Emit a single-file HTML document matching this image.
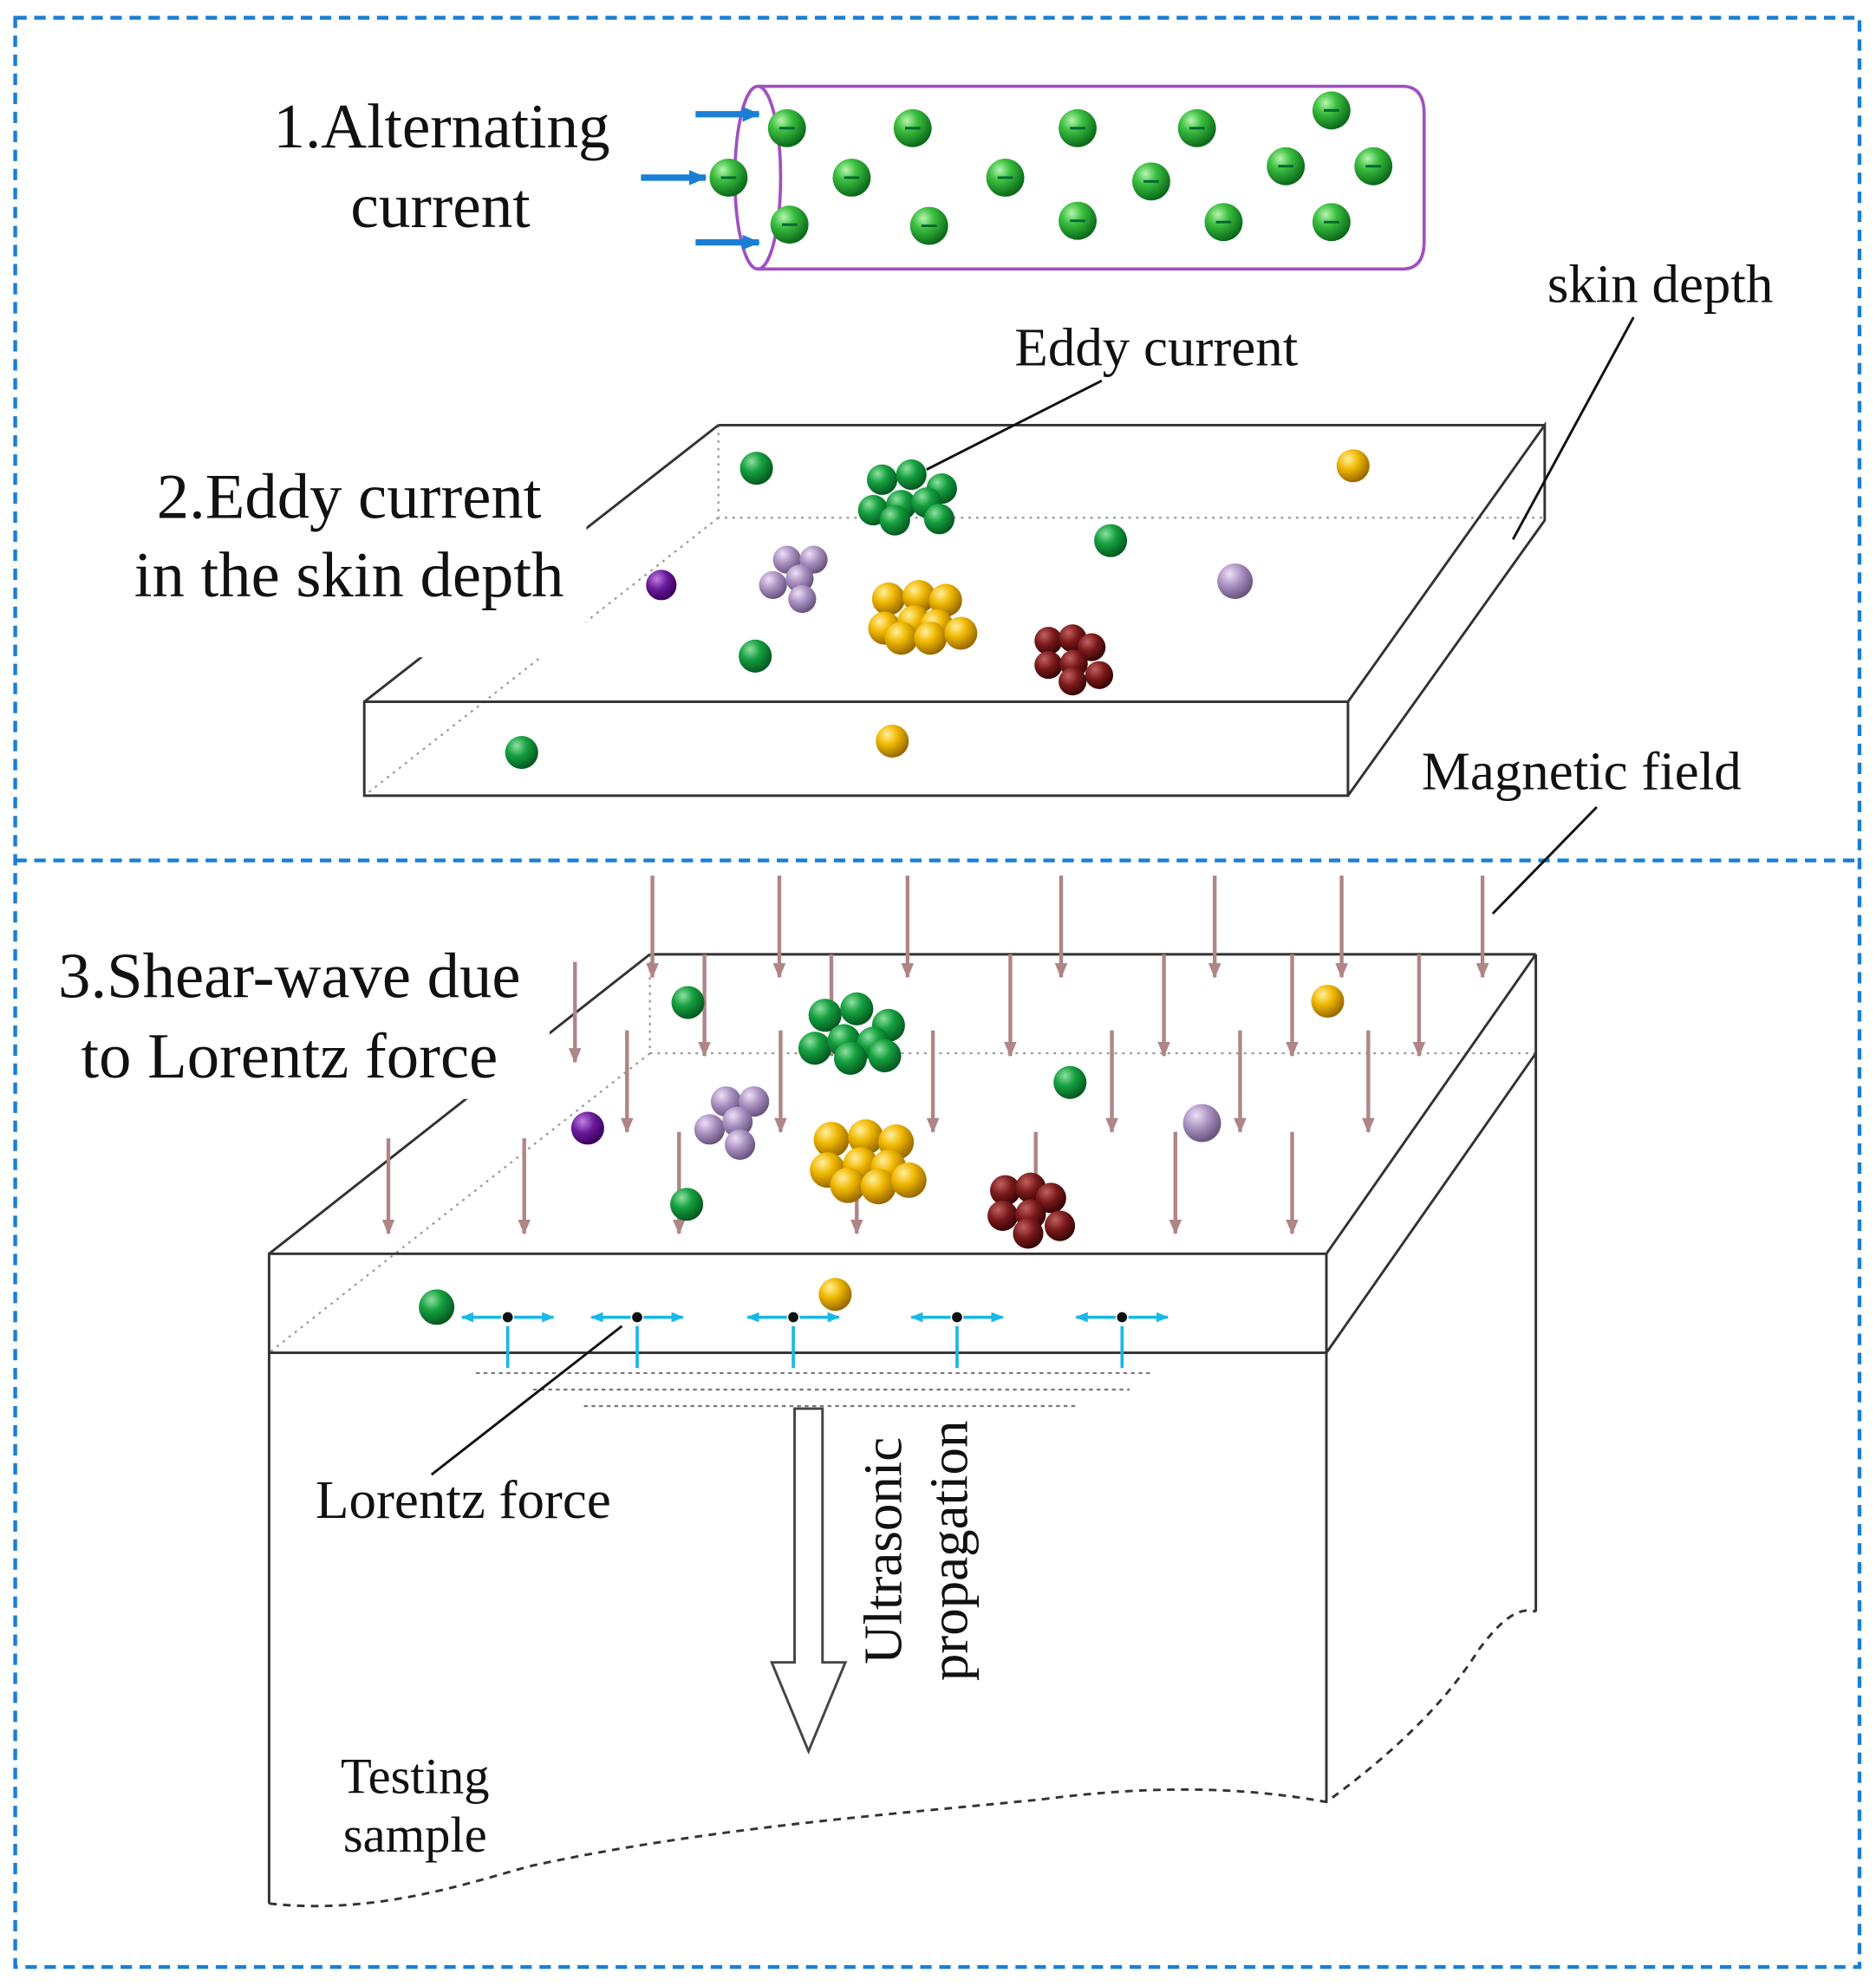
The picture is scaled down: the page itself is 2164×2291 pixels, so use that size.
<!DOCTYPE html>
<html><head><meta charset="utf-8"><style>
html,body{margin:0;padding:0;background:#fff}
svg{display:block}
text{font-family:"Liberation Serif",serif;fill:#111}
</style></head><body>
<svg width="2164" height="2291" viewBox="0 0 1478 1565" preserveAspectRatio="none" xmlns="http://www.w3.org/2000/svg">
<defs>
<radialGradient id="g" cx="35%" cy="30%" r="70%"><stop offset="0" stop-color="#b8f5b0"/><stop offset="0.4" stop-color="#3cc040"/><stop offset="1" stop-color="#0b6a1a"/></radialGradient>
<radialGradient id="dg" cx="35%" cy="30%" r="70%"><stop offset="0" stop-color="#8fe0a0"/><stop offset="0.45" stop-color="#15a040"/><stop offset="1" stop-color="#045a20"/></radialGradient>
<radialGradient id="y" cx="35%" cy="30%" r="70%"><stop offset="0" stop-color="#fff0a0"/><stop offset="0.45" stop-color="#f0b800"/><stop offset="1" stop-color="#9a6a00"/></radialGradient>
<radialGradient id="p" cx="35%" cy="30%" r="70%"><stop offset="0" stop-color="#eee0f5"/><stop offset="0.5" stop-color="#a890c0"/><stop offset="1" stop-color="#6a5580"/></radialGradient>
<radialGradient id="v" cx="35%" cy="30%" r="70%"><stop offset="0" stop-color="#c080e0"/><stop offset="0.5" stop-color="#6a1a9a"/><stop offset="1" stop-color="#3a0060"/></radialGradient>
<radialGradient id="r" cx="35%" cy="30%" r="70%"><stop offset="0" stop-color="#c06060"/><stop offset="0.5" stop-color="#7a1a1a"/><stop offset="1" stop-color="#3a0505"/></radialGradient>
<marker id="ma" markerWidth="12" markerHeight="10" refX="11" refY="5" orient="auto" markerUnits="userSpaceOnUse"><path d="M0,0 L12,5 L0,10 Z" fill="#b08585"/></marker>
<marker id="ba" markerWidth="14" markerHeight="12" refX="13" refY="6" orient="auto" markerUnits="userSpaceOnUse"><path d="M0,0 L14,6 L0,12 Z" fill="#1a7fd4"/></marker>
<marker id="ca" markerWidth="10" markerHeight="8" refX="9" refY="4" orient="auto" markerUnits="userSpaceOnUse"><path d="M0,0 L10,4 L0,8 Z" fill="#18b8e8"/></marker>
</defs>

<rect x="12" y="14" width="1453" height="1536" fill="none" stroke="#1a7fd4" stroke-width="3" stroke-dasharray="9,6"/>
<line x1="12" y1="678" x2="1465" y2="678" stroke="#1a7fd4" stroke-width="3" stroke-dasharray="9,6"/>

<path d="M597,68 L1105,68 Q1122,68 1122,90 L1122,190 Q1122,212 1105,212 L597,212" fill="none" stroke="#a050c0" stroke-width="2.5"/>
<ellipse cx="597" cy="140" rx="18" ry="72" fill="none" stroke="#a050c0" stroke-width="2.5"/>
<g stroke="#1a7fd4" stroke-width="5" fill="none">
<line x1="548" y1="90" x2="598" y2="90" marker-end="url(#ba)"/>
<line x1="505" y1="140" x2="556" y2="140" marker-end="url(#ba)"/>
<line x1="548" y1="191" x2="598" y2="191" marker-end="url(#ba)"/>
</g>
<g>
<g transform="translate(620,101)"><circle r="15" fill="url(#g)"/><line x1="-6" x2="6" stroke="#063" stroke-width="2"/></g>
<g transform="translate(574,140)"><circle r="15" fill="url(#g)"/><line x1="-6" x2="6" stroke="#063" stroke-width="2"/></g>
<g transform="translate(622,177)"><circle r="15" fill="url(#g)"/><line x1="-6" x2="6" stroke="#063" stroke-width="2"/></g>
<g transform="translate(719,101)"><circle r="15" fill="url(#g)"/><line x1="-6" x2="6" stroke="#063" stroke-width="2"/></g>
<g transform="translate(671,140)"><circle r="15" fill="url(#g)"/><line x1="-6" x2="6" stroke="#063" stroke-width="2"/></g>
<g transform="translate(732,178)"><circle r="15" fill="url(#g)"/><line x1="-6" x2="6" stroke="#063" stroke-width="2"/></g>
<g transform="translate(849,101)"><circle r="15" fill="url(#g)"/><line x1="-6" x2="6" stroke="#063" stroke-width="2"/></g>
<g transform="translate(792,140)"><circle r="15" fill="url(#g)"/><line x1="-6" x2="6" stroke="#063" stroke-width="2"/></g>
<g transform="translate(849,174)"><circle r="15" fill="url(#g)"/><line x1="-6" x2="6" stroke="#063" stroke-width="2"/></g>
<g transform="translate(943,101)"><circle r="15" fill="url(#g)"/><line x1="-6" x2="6" stroke="#063" stroke-width="2"/></g>
<g transform="translate(907,143)"><circle r="15" fill="url(#g)"/><line x1="-6" x2="6" stroke="#063" stroke-width="2"/></g>
<g transform="translate(964,175)"><circle r="15" fill="url(#g)"/><line x1="-6" x2="6" stroke="#063" stroke-width="2"/></g>
<g transform="translate(1049,87)"><circle r="15" fill="url(#g)"/><line x1="-6" x2="6" stroke="#063" stroke-width="2"/></g>
<g transform="translate(1013,131)"><circle r="15" fill="url(#g)"/><line x1="-6" x2="6" stroke="#063" stroke-width="2"/></g>
<g transform="translate(1082,131)"><circle r="15" fill="url(#g)"/><line x1="-6" x2="6" stroke="#063" stroke-width="2"/></g>
<g transform="translate(1049,175)"><circle r="15" fill="url(#g)"/><line x1="-6" x2="6" stroke="#063" stroke-width="2"/></g>
</g>
<text x="348" y="116" font-size="50" text-anchor="middle">1.Alternating</text>
<text x="347" y="179" font-size="50" text-anchor="middle">current</text>

<g stroke="#999" stroke-width="1.5" stroke-dasharray="2,4" fill="none">
<polyline points="566,335 566,408 1217,408"/><line x1="566" y1="408" x2="287" y2="627"/>
</g>
<g stroke="#333" stroke-width="2" fill="none">
<line x1="566" y1="335" x2="1217" y2="335"/>
<line x1="566" y1="335" x2="287" y2="553"/>
<rect x="287" y="553" width="775" height="74"/>
<polyline points="1062,553 1217,335 1217,410 1062,627"/>
</g>
<rect x="100" y="360" width="362" height="158" fill="#fff"/>
<text x="275" y="408" font-size="51" text-anchor="middle">2.Eddy current</text>
<text x="275" y="470" font-size="51" text-anchor="middle">in the skin depth</text>
<g>
<circle cx="596" cy="369" r="13" fill="url(#dg)"/><circle cx="1066" cy="367" r="13" fill="url(#y)"/>
<circle cx="875" cy="426" r="13" fill="url(#dg)"/><circle cx="973" cy="458" r="14" fill="url(#p)"/>
<circle cx="521" cy="461" r="12" fill="url(#v)"/><circle cx="595" cy="517" r="13" fill="url(#dg)"/>
<circle cx="411" cy="593" r="13" fill="url(#dg)"/><circle cx="703" cy="584" r="13" fill="url(#y)"/>
<circle cx="695" cy="378" r="12" fill="url(#dg)"/><circle cx="718" cy="374" r="12" fill="url(#dg)"/><circle cx="742" cy="385" r="12" fill="url(#dg)"/>
<circle cx="688" cy="402" r="12" fill="url(#dg)"/><circle cx="710" cy="398" r="12" fill="url(#dg)"/><circle cx="730" cy="396" r="12" fill="url(#dg)"/>
<circle cx="705" cy="410" r="12" fill="url(#dg)"/><circle cx="740" cy="409" r="12" fill="url(#dg)"/>
<circle cx="620" cy="441" r="11" fill="url(#p)"/><circle cx="641" cy="441" r="11" fill="url(#p)"/><circle cx="609" cy="461" r="11" fill="url(#p)"/><circle cx="630" cy="456" r="11" fill="url(#p)"/><circle cx="632" cy="472" r="11" fill="url(#p)"/>
<circle cx="700" cy="472" r="13" fill="url(#y)"/><circle cx="724" cy="470" r="13" fill="url(#y)"/><circle cx="745" cy="473" r="13" fill="url(#y)"/>
<circle cx="697" cy="495" r="13" fill="url(#y)"/><circle cx="720" cy="490" r="13" fill="url(#y)"/><circle cx="738" cy="493" r="13" fill="url(#y)"/>
<circle cx="710" cy="503" r="13" fill="url(#y)"/><circle cx="733" cy="503" r="13" fill="url(#y)"/><circle cx="757" cy="499" r="13" fill="url(#y)"/>
<circle cx="826" cy="505" r="11" fill="url(#r)"/><circle cx="845" cy="503" r="11" fill="url(#r)"/><circle cx="860" cy="510" r="11" fill="url(#r)"/>
<circle cx="826" cy="524" r="11" fill="url(#r)"/><circle cx="846" cy="523" r="11" fill="url(#r)"/><circle cx="866" cy="532" r="11" fill="url(#r)"/>
<circle cx="845" cy="537" r="11" fill="url(#r)"/>
</g>
<text x="911" y="288" font-size="43" text-anchor="middle">Eddy current</text>
<line x1="868" y1="300" x2="730" y2="370" stroke="#111" stroke-width="2"/>
<text x="1308" y="238" font-size="43" text-anchor="middle">skin depth</text>
<line x1="1287" y1="250" x2="1192" y2="425" stroke="#111" stroke-width="2"/>
<text x="1246" y="622" font-size="43" text-anchor="middle">Magnetic field</text>
<line x1="1258" y1="636" x2="1176" y2="720" stroke="#111" stroke-width="2"/>

<g stroke="#999" stroke-width="1.5" stroke-dasharray="2,4" fill="none">
<polyline points="512,752 512,830 1210,830"/><line x1="512" y1="830" x2="212" y2="1066"/>
</g>
<g stroke="#333" stroke-width="2" fill="none">
<line x1="512" y1="752" x2="1210" y2="752"/>
<line x1="512" y1="752" x2="212" y2="988"/>
<rect x="212" y="988" width="833" height="78"/>
<line x1="1045" y1="988" x2="1210" y2="752"/>
<line x1="1045" y1="1066" x2="1210" y2="830"/>
<line x1="1210" y1="752" x2="1210" y2="1270"/>
<line x1="212" y1="1066" x2="212" y2="1500"/>
<line x1="1045" y1="1066" x2="1045" y2="1420"/>
</g>
<path d="M212,1500 C300,1510 380,1480 420,1470 C560,1440 700,1430 820,1418 C920,1405 990,1410 1045,1420 C1100,1380 1140,1340 1165,1300 C1180,1280 1195,1265 1210,1270" fill="none" stroke="#333" stroke-width="2" stroke-dasharray="6,5"/>
<rect x="35" y="740" width="398" height="126" fill="#fff"/>
<text x="228" y="786" font-size="51" text-anchor="middle">3.Shear-wave due</text>
<text x="228" y="849" font-size="51" text-anchor="middle">to Lorentz force</text>

<g stroke="#b08585" stroke-width="3" marker-end="url(#ma)">
<line x1="514" y1="690" x2="514" y2="770"/><line x1="614" y1="690" x2="614" y2="770"/><line x1="715" y1="690" x2="715" y2="770"/><line x1="836" y1="690" x2="836" y2="770"/><line x1="957" y1="690" x2="957" y2="770"/><line x1="1057" y1="690" x2="1057" y2="770"/><line x1="1168" y1="690" x2="1168" y2="770"/>
<line x1="453" y1="758" x2="453" y2="837"/><line x1="555" y1="752" x2="555" y2="832"/><line x1="655" y1="752" x2="655" y2="832"/><line x1="796" y1="752" x2="796" y2="832"/><line x1="917" y1="752" x2="917" y2="832"/><line x1="1018" y1="752" x2="1018" y2="832"/><line x1="1118" y1="752" x2="1118" y2="832"/>
<line x1="494" y1="812" x2="494" y2="892"/><line x1="615" y1="812" x2="615" y2="892"/><line x1="735" y1="812" x2="735" y2="892"/><line x1="876" y1="812" x2="876" y2="892"/><line x1="977" y1="812" x2="977" y2="892"/><line x1="1078" y1="812" x2="1078" y2="892"/>
<line x1="306" y1="897" x2="306" y2="972"/><line x1="413" y1="897" x2="413" y2="972"/><line x1="535" y1="892" x2="535" y2="972"/><line x1="675" y1="892" x2="675" y2="972"/><line x1="816" y1="892" x2="816" y2="972"/><line x1="926" y1="892" x2="926" y2="972"/><line x1="1018" y1="892" x2="1018" y2="972"/>
</g>
<g>
<circle cx="542" cy="790" r="13" fill="url(#dg)"/><circle cx="1046" cy="789" r="13" fill="url(#y)"/>
<circle cx="843" cy="853" r="13" fill="url(#dg)"/><circle cx="947" cy="885" r="15" fill="url(#p)"/>
<circle cx="463" cy="889" r="13" fill="url(#v)"/><circle cx="541" cy="949" r="13" fill="url(#dg)"/>
<circle cx="344" cy="1030" r="14" fill="url(#dg)"/><circle cx="658" cy="1020" r="13" fill="url(#y)"/>
<circle cx="650" cy="800" r="13" fill="url(#dg)"/><circle cx="675" cy="795" r="13" fill="url(#dg)"/><circle cx="700" cy="808" r="13" fill="url(#dg)"/>
<circle cx="642" cy="826" r="13" fill="url(#dg)"/><circle cx="665" cy="820" r="13" fill="url(#dg)"/><circle cx="688" cy="822" r="13" fill="url(#dg)"/>
<circle cx="670" cy="834" r="13" fill="url(#dg)"/><circle cx="697" cy="832" r="13" fill="url(#dg)"/>
<circle cx="572" cy="868" r="12" fill="url(#p)"/><circle cx="594" cy="868" r="12" fill="url(#p)"/><circle cx="559" cy="890" r="12" fill="url(#p)"/><circle cx="581" cy="884" r="12" fill="url(#p)"/><circle cx="583" cy="902" r="12" fill="url(#p)"/>
<circle cx="655" cy="898" r="14" fill="url(#y)"/><circle cx="682" cy="896" r="14" fill="url(#y)"/><circle cx="706" cy="900" r="14" fill="url(#y)"/>
<circle cx="652" cy="922" r="14" fill="url(#y)"/><circle cx="678" cy="918" r="14" fill="url(#y)"/><circle cx="700" cy="920" r="14" fill="url(#y)"/>
<circle cx="668" cy="934" r="14" fill="url(#y)"/><circle cx="692" cy="935" r="14" fill="url(#y)"/><circle cx="716" cy="930" r="14" fill="url(#y)"/>
<circle cx="792" cy="938" r="12" fill="url(#r)"/><circle cx="812" cy="936" r="12" fill="url(#r)"/><circle cx="828" cy="944" r="12" fill="url(#r)"/>
<circle cx="790" cy="958" r="12" fill="url(#r)"/><circle cx="812" cy="957" r="12" fill="url(#r)"/><circle cx="835" cy="966" r="12" fill="url(#r)"/>
<circle cx="810" cy="972" r="12" fill="url(#r)"/>
</g>

<g stroke="#18b8e8" stroke-width="2.5">
<g transform="translate(400,0)"><line x1="-5" y1="1038" x2="-36" y2="1038" marker-end="url(#ca)"/><line x1="5" y1="1038" x2="36" y2="1038" marker-end="url(#ca)"/><line x1="0" y1="1045" x2="0" y2="1078"/></g>
<g transform="translate(502,0)"><line x1="-5" y1="1038" x2="-36" y2="1038" marker-end="url(#ca)"/><line x1="5" y1="1038" x2="36" y2="1038" marker-end="url(#ca)"/><line x1="0" y1="1045" x2="0" y2="1078"/></g>
<g transform="translate(625,0)"><line x1="-5" y1="1038" x2="-36" y2="1038" marker-end="url(#ca)"/><line x1="5" y1="1038" x2="36" y2="1038" marker-end="url(#ca)"/><line x1="0" y1="1045" x2="0" y2="1078"/></g>
<g transform="translate(754,0)"><line x1="-5" y1="1038" x2="-36" y2="1038" marker-end="url(#ca)"/><line x1="5" y1="1038" x2="36" y2="1038" marker-end="url(#ca)"/><line x1="0" y1="1045" x2="0" y2="1078"/></g>
<g transform="translate(884,0)"><line x1="-5" y1="1038" x2="-36" y2="1038" marker-end="url(#ca)"/><line x1="5" y1="1038" x2="36" y2="1038" marker-end="url(#ca)"/><line x1="0" y1="1045" x2="0" y2="1078"/></g>
</g>
<g fill="#111"><circle cx="400" cy="1038" r="4"/><circle cx="502" cy="1038" r="4"/><circle cx="625" cy="1038" r="4"/><circle cx="754" cy="1038" r="4"/><circle cx="884" cy="1038" r="4"/></g>
<g stroke="#777" stroke-width="1.5" stroke-dasharray="3,3">
<line x1="375" y1="1082" x2="908" y2="1082"/><line x1="420" y1="1095" x2="890" y2="1095"/><line x1="460" y1="1108" x2="848" y2="1108"/>
</g>
<path d="M626,1110 L648,1110 L648,1310 L666,1310 L637,1380 L608,1310 L626,1310 Z" fill="#fff" stroke="#444" stroke-width="2"/>
<text transform="translate(710,1222) rotate(-90)" font-size="43" text-anchor="middle">Ultrasonic</text>
<text transform="translate(762,1222) rotate(-90)" font-size="43" text-anchor="middle">propagation</text>
<text x="365" y="1196" font-size="43" text-anchor="middle">Lorentz force</text>
<line x1="340" y1="1162" x2="490" y2="1045" stroke="#111" stroke-width="2"/>
<text x="327" y="1413" font-size="40" text-anchor="middle">Testing</text>
<text x="327" y="1459" font-size="40" text-anchor="middle">sample</text>
</svg>
</body></html>
